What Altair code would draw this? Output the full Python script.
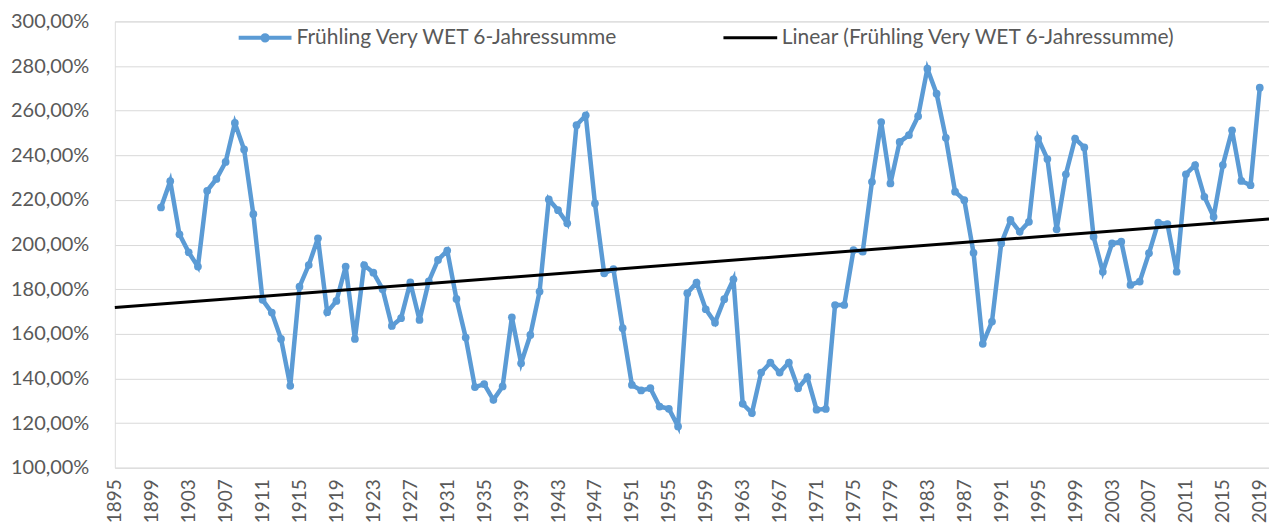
import altair as alt
import pandas as pd

SERIES = "Frühling Very WET 6-Jahressumme"
TREND = "Linear (Frühling Very WET 6-Jahressumme)"

years = list(range(1900, 2020))
values = [
    216.6, 228.4, 204.6, 196.5, 190.1, 224.1, 229.4, 237.0, 254.5, 242.6,  # 1900-1909
    213.6, 175.2, 169.5, 157.7, 136.7, 181.1, 190.8, 202.8, 169.7, 174.7,  # 1910-1919
    190.1, 157.7, 190.8, 187.4, 180.0, 163.5, 167.0, 183.0, 166.2, 183.5,  # 1920-1929
    193.1, 197.3, 175.6, 158.3, 136.1, 137.4, 130.4, 136.4, 167.4, 146.8,  # 1930-1939
    159.5, 178.9, 220.2, 215.4, 209.5, 253.5, 257.9, 218.4, 187.1, 189.0,  # 1940-1949
    162.5, 137.1, 134.6, 135.6, 127.4, 126.4, 118.5, 178.2, 182.9, 171.0,  # 1950-1959
    165.0, 175.5, 184.4, 128.6, 124.5, 142.6, 147.1, 142.6, 147.1, 135.6,  # 1960-1969
    140.6, 126.0, 126.3, 172.9, 172.9, 197.5, 196.8, 228.1, 254.9, 227.4,  # 1970-1979
    246.0, 249.0, 257.5, 278.8, 267.6, 247.8, 223.7, 219.9, 196.3, 155.5,  # 1980-1989
    165.5, 200.5, 211.0, 205.7, 210.2, 247.5, 238.3, 206.8, 231.5, 247.5,  # 1990-1999
    243.5, 203.5, 187.8, 200.5, 201.3, 181.9, 183.4, 196.1, 209.8, 209.2,  # 2000-2009
    187.8, 231.5, 235.6, 221.4, 212.4, 235.6, 251.2, 228.5, 226.6, 270.3,  # 2010-2019
]
x_ticks = list(range(1895, 2020, 4))
y_ticks = list(range(100, 301, 20))

df = pd.DataFrame({"year": years, "value": values, "series": SERIES})

BLUE = "#5B9BD5"
FONT = "Lato"
LABEL_COLOR = "#595959"

x_enc = alt.X(
    "year:Q",
    scale=alt.Scale(domain=[1895, 2020], nice=False, zero=False),
    axis=alt.Axis(
        values=x_ticks, format="d", labelAngle=270, grid=False, ticks=False,
        domain=False, labelPadding=11, labelFontSize=19, labelFont=FONT,
        labelColor=LABEL_COLOR, title=None, labelOverlap=False,
    ),
)
y_enc = alt.Y(
    "value:Q",
    scale=alt.Scale(domain=[100, 300], nice=False, zero=False),
    axis=alt.Axis(
        values=y_ticks, labelExpr="replace(format(datum.value, '.2f'), '.', ',') + '%'",
        grid=True, gridColor="#D9D9D9", gridWidth=1, ticks=False, domain=False,
        labelPadding=26, labelFontSize=20, labelFont=FONT, labelColor=LABEL_COLOR,
        title=None,
    ),
)

legend_blue = alt.Legend(
    title=None, orient="none", legendX=122, legendY=-12, direction="horizontal",
    symbolType="M-1,0L1,0M-0.1,0A0.1,0.1,0,1,0,0.1,0A0.1,0.1,0,1,0,-0.1,0Z",
    symbolSize=2800, symbolStrokeWidth=4, symbolFillColor=BLUE, symbolStrokeColor=BLUE,
    labelFont=FONT, labelFontSize=21, labelColor=LABEL_COLOR, labelOffset=3,
    padding=0, labelLimit=600,
)
legend_trend = alt.Legend(
    title=None, orient="none", legendX=608, legendY=-12, direction="horizontal",
    symbolType="stroke", symbolSize=2900, symbolStrokeWidth=3, symbolStrokeColor="black",
    labelFont=FONT, labelFontSize=21, labelColor=LABEL_COLOR, labelOffset=3,
    padding=0, labelLimit=600,
)

line = alt.Chart(df).mark_line(
    strokeWidth=4.5, point=alt.OverlayMarkDef(filled=True, size=60)
).encode(
    x=x_enc, y=y_enc,
    color=alt.Color("series:N", scale=alt.Scale(domain=[SERIES], range=[BLUE]), legend=legend_blue),
)

trend = alt.Chart(df).transform_regression(
    "year", "value", method="linear", extent=[1895, 2020]
).transform_calculate(
    series=f"'{TREND}'"
).mark_line(strokeWidth=3).encode(
    x=x_enc, y=y_enc,
    color=alt.Color("series:N", scale=alt.Scale(domain=[TREND], range=["black"]), legend=legend_trend),
)

chart = alt.layer(line, trend).resolve_scale(color="independent").properties(
    width=1156, height=447,
    autosize=alt.AutoSizeParams(type="none"),
    padding={"left": 107, "top": 13, "right": 0, "bottom": 55},
).configure_view(stroke=None).configure(background="white")

chart.save("out.html", embed_options={"renderer": "svg", "actions": False})
